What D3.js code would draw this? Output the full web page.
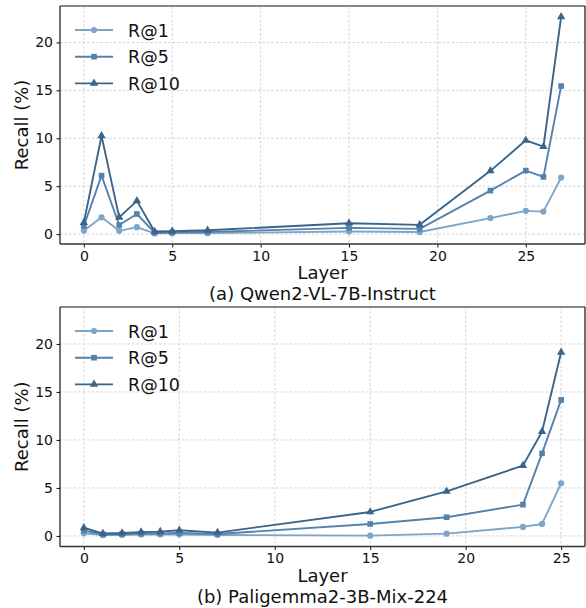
<!DOCTYPE html>
<html>
<head>
<meta charset="utf-8">
<script src="https://cdn.jsdelivr.net/npm/d3@7"></script>
<style>
  body { margin: 0; background: #fff; }
  svg { display: block; font-family: "DejaVu Sans", sans-serif; }
</style>
</head>
<body>
<svg id="chart" width="586" height="608"></svg>
<script>
// ---- Data ----
const seriesNames = ["R@1", "R@5", "R@10"];
const yTicks = [0, 5, 10, 15, 20];
const xTicksA = [0, 5, 10, 15, 20, 25];
const xTicksB = [0, 5, 10, 15, 20, 25];

const layersA = [0, 1, 2, 3, 4, 5, 7, 15, 19, 23, 25, 26, 27];
const r1A  = [0.35, 1.75, 0.34, 0.73, 0.08, 0.1, 0.1, 0.28, 0.22, 1.67, 2.43, 2.35, 5.9];
const r5A  = [0.85, 6.1, 0.95, 2.1, 0.15, 0.18, 0.22, 0.65, 0.55, 4.54, 6.63, 5.97, 15.45];
const r10A = [1.2, 10.25, 1.75, 3.47, 0.27, 0.3, 0.4, 1.14, 0.97, 6.6, 9.79, 9.13, 22.67];

const layersB = [0, 1, 2, 3, 4, 5, 7, 15, 19, 23, 24, 25];
const r1B  = [0.28, 0.1, 0.1, 0.15, 0.15, 0.15, 0.1, 0.03, 0.24, 0.94, 1.25, 5.49];
const r5B  = [0.55, 0.15, 0.2, 0.25, 0.25, 0.3, 0.2, 1.25, 1.95, 3.26, 8.6, 14.17];
const r10B = [0.85, 0.25, 0.3, 0.4, 0.45, 0.6, 0.35, 2.5, 4.65, 7.33, 10.87, 19.13];

const titles = ["(a) Qwen2-VL-7B-Instruct", "(b) Paligemma2-3B-Mix-224"];

// ---- Style ----
const colors = ["#7fa5c6", "#5282ad", "#3a6489"];
const markers = [d3.symbolCircle, d3.symbolSquare, d3.symbolTriangle];
const markerSizes = [30, 32, 30];

const svg = d3.select("#chart");

function panel(cfg) {
  const { x0, x1, y0, y1, xDomain, yDomain, layers, series, xTicks, title } = cfg;
  const x = d3.scaleLinear().domain(xDomain).range([x0, x1]);
  const y = d3.scaleLinear().domain(yDomain).range([y1, y0]);
  const g = svg.append("g");

  // grid
  g.append("g").selectAll("line").data(xTicks).join("line")
    .attr("x1", d => x(d)).attr("x2", d => x(d))
    .attr("y1", y0).attr("y2", y1)
    .attr("stroke", "#c8c8c8").attr("stroke-width", 0.8)
    .attr("stroke-dasharray", "2.5,2");
  g.append("g").selectAll("line").data(yTicks).join("line")
    .attr("x1", x0).attr("x2", x1)
    .attr("y1", d => y(d)).attr("y2", d => y(d))
    .attr("stroke", "#c8c8c8").attr("stroke-width", 0.8)
    .attr("stroke-dasharray", "2.5,2");

  // axes
  const xAxis = d3.axisBottom(x).tickValues(xTicks).tickSize(3.5).tickPadding(3.5);
  const gx = g.append("g").attr("transform", `translate(0,${y1})`).call(xAxis);
  gx.select(".domain").remove();
  gx.selectAll("text").attr("font-size", 14).attr("fill", "#111").attr("font-family", "DejaVu Sans");
  gx.selectAll("line").attr("stroke", "#111");

  const yAxis = d3.axisLeft(y).tickValues(yTicks).tickSize(3.5).tickPadding(3.5);
  const gy = g.append("g").attr("transform", `translate(${x0},0)`).call(yAxis);
  gy.select(".domain").remove();
  gy.selectAll("text").attr("font-size", 14).attr("fill", "#111").attr("font-family", "DejaVu Sans");
  gy.selectAll("line").attr("stroke", "#111");

  // lines and markers
  series.forEach((vals, i) => {
    const pts = layers.map((l, k) => [l, vals[k]]);
    const line = d3.line().x(d => x(d[0])).y(d => y(d[1]));
    g.append("path").datum(pts)
      .attr("d", line).attr("fill", "none")
      .attr("stroke", colors[i]).attr("stroke-width", 1.9)
      .attr("stroke-linejoin", "round");
    g.append("g").selectAll("path").data(pts).join("path")
      .attr("transform", d => `translate(${x(d[0])},${y(d[1])})`)
      .attr("d", d3.symbol().type(markers[i]).size(markerSizes[i]))
      .attr("fill", colors[i]);
  });

  // frame
  g.append("line").attr("x1", x0).attr("x2", x1).attr("y1", y0).attr("y2", y0)
    .attr("stroke", "#888").attr("stroke-width", 2);
  g.append("line").attr("x1", x0).attr("x2", x0).attr("y1", y0).attr("y2", y1)
    .attr("stroke", "#111").attr("stroke-width", 1.2);
  g.append("line").attr("x1", x1).attr("x2", x1).attr("y1", y0).attr("y2", y1)
    .attr("stroke", "#111").attr("stroke-width", 1.2);
  g.append("line").attr("x1", x0).attr("x2", x1).attr("y1", y1).attr("y2", y1)
    .attr("stroke", "#333").attr("stroke-width", 1.5);

  // labels
  g.append("text").attr("x", (x0 + x1) / 2).attr("y", y1 + 35)
    .attr("text-anchor", "middle").attr("font-size", 18).attr("fill", "#111")
    .text("Layer");
  g.append("text").attr("x", (x0 + x1) / 2).attr("y", y1 + 56)
    .attr("text-anchor", "middle").attr("font-size", 18).attr("fill", "#111")
    .text(title);
  g.append("text")
    .attr("transform", `translate(${x0 - 32},${(y0 + y1) / 2}) rotate(-90)`)
    .attr("text-anchor", "middle").attr("font-size", 18).attr("fill", "#111")
    .text("Recall (%)");

  // legend
  const lg = g.append("g");
  seriesNames.forEach((name, i) => {
    const cy = y0 + 24 + i * 26.7;
    lg.append("line").attr("x1", x0 + 15).attr("x2", x0 + 53)
      .attr("y1", cy).attr("y2", cy)
      .attr("stroke", colors[i]).attr("stroke-width", 1.9);
    lg.append("path").attr("transform", `translate(${x0 + 34},${cy})`)
      .attr("d", d3.symbol().type(markers[i]).size(markerSizes[i]))
      .attr("fill", colors[i]);
    lg.append("text").attr("x", x0 + 68).attr("y", cy + 6.5)
      .attr("font-size", 17.5).attr("fill", "#111").text(name);
  });
}

panel({ x0: 60, x1: 585, y0: 6, y1: 244, xDomain: [-1.35, 28.35], yDomain: [-1.03, 23.8],
        layers: layersA, series: [r1A, r5A, r10A], xTicks: xTicksA, title: titles[0] });
panel({ x0: 60, x1: 585, y0: 307, y1: 546.5, xDomain: [-1.25, 26.25], yDomain: [-1.1, 23.85],
        layers: layersB, series: [r1B, r5B, r10B], xTicks: xTicksB, title: titles[1] });
</script>
</body>
</html>
